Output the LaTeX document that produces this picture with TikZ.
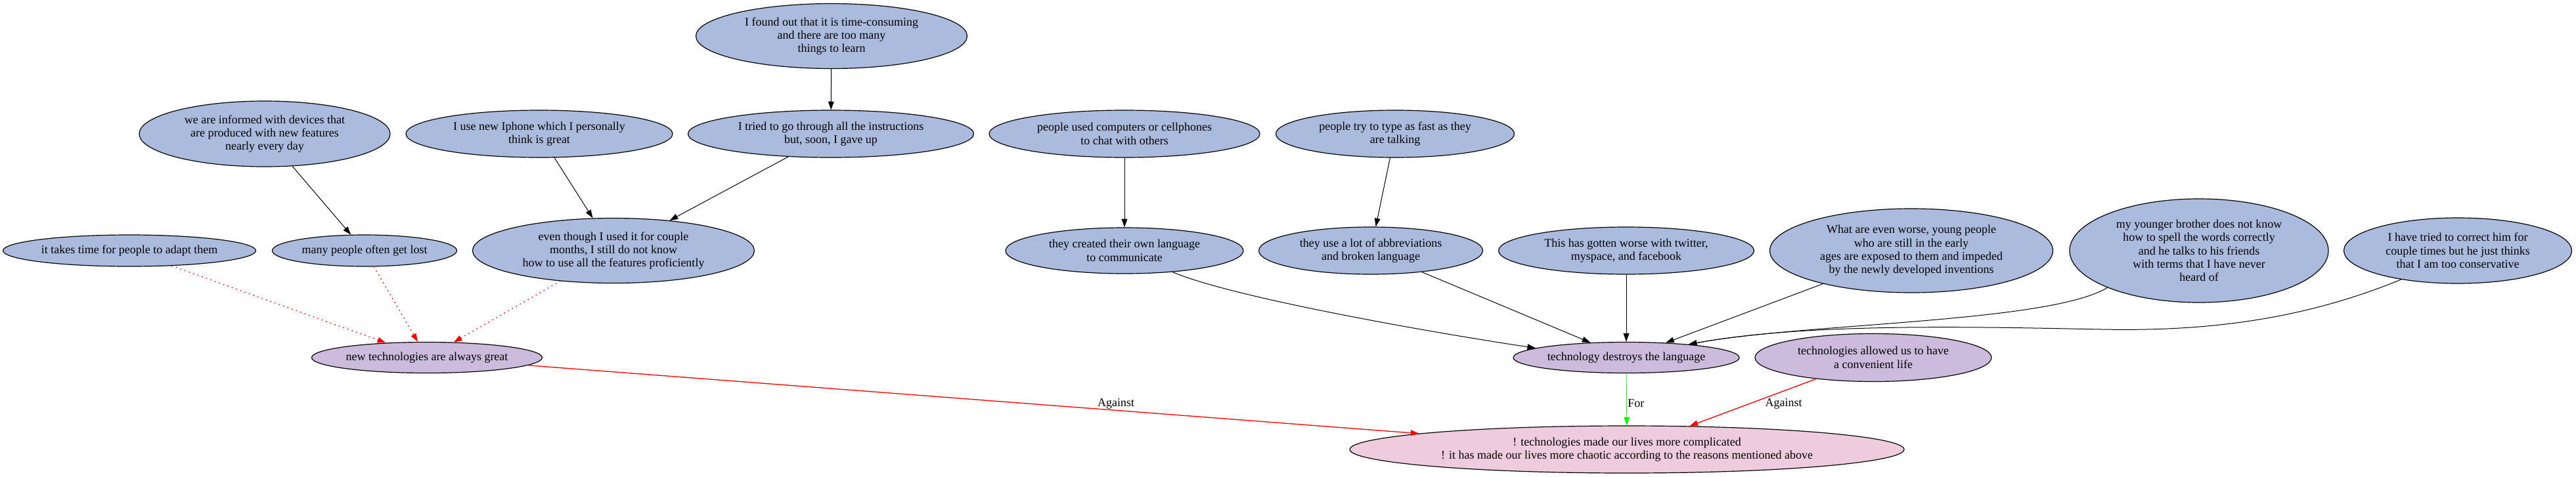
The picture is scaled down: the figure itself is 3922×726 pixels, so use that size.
\documentclass[tikz,border=0pt]{standalone}
\usepackage{fontspec}
\setmainfont{Liberation Serif}
\usetikzlibrary{shapes.geometric,arrows.meta}
\definecolor{bluefill}{RGB}{170,187,222}
\definecolor{purplefill}{RGB}{204,187,221}
\definecolor{pinkfill}{RGB}{238,204,221}
\definecolor{edgered}{RGB}{255,0,0}
\definecolor{edgegreen}{RGB}{0,255,0}
\newcommand{\argfont}{\fontsize{13.5}{15.3}\selectfont}
\tikzset{
  arg/.style={ellipse, draw=black, line width=0.9pt, inner sep=0pt, align=center, font=\argfont},
  sz/.style 2 args={minimum width=#1*0.75pt, minimum height=#2*0.75pt},
  premise/.style={arg, fill=bluefill},
  claim/.style={arg, fill=purplefill},
  thesis/.style={arg, fill=pinkfill},
  tip/.style={-{Triangle[length=9.5pt,width=6.5pt]}},
  support/.style={tip, draw=black, line width=0.75pt},
  attack/.style={tip, draw=edgered, line width=1pt, dash pattern=on 1.2pt off 4pt},
  against/.style={-{Triangle[length=9.5pt,width=6.5pt]}, draw=edgered, line width=1pt},
  forline/.style={-{Triangle[length=9.5pt,width=6.5pt]}, draw=edgegreen, line width=0.6pt},
  lbl/.style={font=\argfont, inner sep=0pt, text=black}
}
\begin{document}
\begin{tikzpicture}[x=0.75pt,y=-0.75pt]
\useasboundingbox (0,0) rectangle (3922,726);
% top row
\node[premise, sz={413}{99}] (found) at (1266,55) {I found out that it is time-consuming\\and there are too many\\things to learn};
% second row
\node[premise, sz={382}{100}] (informed) at (403,204) {we are informed with devices that\\are produced with new features\\nearly every day};
\node[premise, sz={406}{72}] (iphone) at (821,204) {I use new Iphone which I personally\\think is great};
\node[premise, sz={435}{72}] (tried) at (1265,204) {I tried to go through all the instructions\\but, soon, I gave up};
\node[premise, sz={412}{72}] (used) at (1712,204) {people used computers or cellphones\\to chat with others};
\node[premise, sz={363}{72}] (type) at (2124,204) {people try to type as fast as they\\are talking};
% third row
\node[premise, sz={385}{48}] (takes) at (197,382) {it takes time for people to adapt them};
\node[premise, sz={281}{48}] (lost) at (555,382) {many people often get lost};
\node[premise, sz={429}{99}] (though) at (934,382) {even though I used it for couple\\months, I still do not know\\how to use all the features proficiently};
\node[premise, sz={362}{70}] (created) at (1712,382) {they created their own language\\to communicate};
\node[premise, sz={341}{72}] (abbrev) at (2087,382) {they use a lot of abbreviations\\and broken language};
\node[premise, sz={389}{72}] (worse) at (2476,382) {This has gotten worse with twitter,\\myspace, and facebook};
\node[premise, sz={431}{128}] (young) at (2910,382) {What are even worse, young people\\who are still in the early\\ages are exposed to them and impeded\\by the newly developed inventions};
\node[premise, sz={394}{158}] (brother) at (3348,382) {my younger brother does not know\\how to spell the words correctly\\and he talks to his friends\\with terms that I have never\\heard of};
\node[premise, sz={347}{100}] (correct) at (3742,382) {I have tried to correct him for\\couple times but he just thinks\\that I am too conservative};
% fourth row
\node[claim, sz={351}{47}] (newtech) at (650,545) {new technologies are always great};
\node[claim, sz={344}{47}] (destroys) at (2476,545) {technology destroys the language};
\node[claim, sz={360}{73}] (allowed) at (2852,545) {technologies allowed us to have\\a convenient life};
% bottom
\node[thesis, sz={844}{72}] (main) at (2477,685) {! technologies made our lives more complicated\\! it has made our lives more chaotic according to the reasons mentioned above};

% black support edges
\draw[support] (found) -- (tried);
\draw[support] (informed) -- (lost);
\draw[support] (iphone) -- (though);
\draw[support] (tried) -- (though);
\draw[support] (used) -- (created);
\draw[support] (type) -- (abbrev);
\draw[support] (created.-24) .. controls (1880,455) and (2200,510) .. (destroys.174);
\draw[support] (abbrev) -- (destroys);
\draw[support] (worse) -- (destroys);
\draw[support] (young) -- (destroys);
\draw[support] (brother.202) .. controls (3120,492) and (2750,492) .. (destroys.12);
\draw[support] (correct.207) .. controls (3500,490) and (3350,505) .. (3200,502) .. controls (3000,498) and (2750,492) .. (destroys.12);

% red dotted edges
\draw[attack] (takes) -- (newtech);
\draw[attack] (lost) -- (newtech);
\draw[attack] (though) -- (newtech);

% to the thesis
\draw[against] (newtech) -- node[lbl, pos=0.66, above=1pt] {Against} (main);
\draw[forline] (destroys) -- node[lbl, pos=0.58, anchor=west, xshift=1pt] {For} (main);
\draw[against] (allowed) -- node[lbl, pos=0.53, anchor=west, xshift=18pt] {Against} (main);
\end{tikzpicture}
\end{document}
